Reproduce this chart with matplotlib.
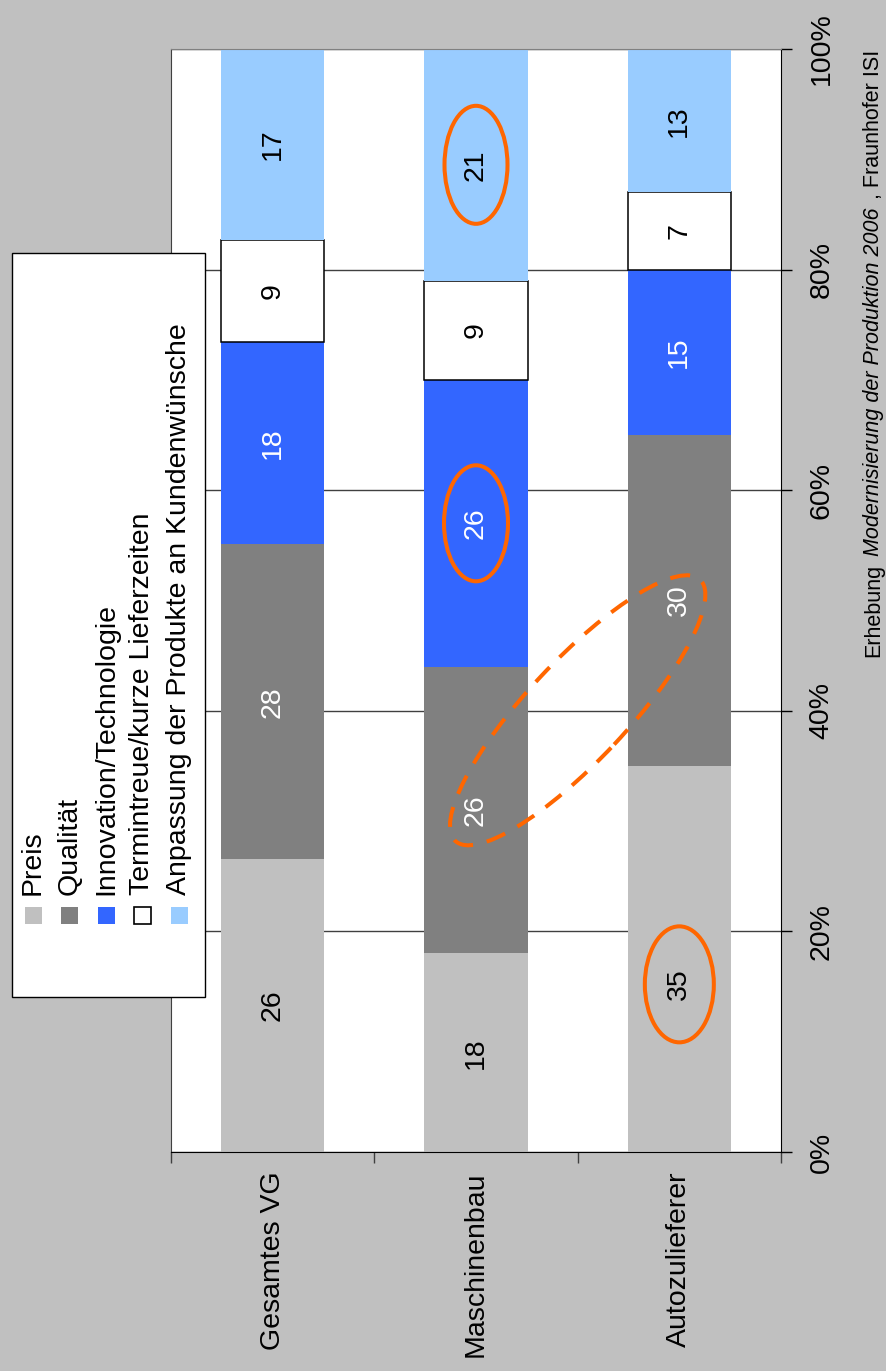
import numpy as np
import matplotlib.pyplot as plt
from matplotlib.patches import Ellipse, Rectangle
from matplotlib.transforms import IdentityTransform

plt.rcParams['font.family'] = ['Liberation Sans', 'DejaVu Sans']

categories = ['Gesamtes VG', 'Maschinenbau', 'Autozulieferer']
series = ['Preis', 'Qualität', 'Innovation/Technologie',
          'Termintreue/kurze Lieferzeiten', 'Anpassung der Produkte an Kundenwünsche']
preis = [26, 18, 35]
qualitaet = [28, 26, 30]
innovation = [18, 26, 15]
termintreue = [9, 9, 7]
anpassung = [17, 21, 13]
ticks = [0, 20, 40, 60, 80, 100]
source = [('Erhebung', 'normal'), ('Modernisierung der Produktion 2006', 'italic'),
          (', Fraunhofer ISI', 'normal')]

colors = ['#C0C0C0', '#808080', '#3366FF', '#FFFFFF', '#99CCFF']
text_colors = ['black', 'white', 'white', 'black', 'black']
values = np.array([preis, qualitaet, innovation, termintreue, anpassung], dtype=float)
shares = values / values.sum(axis=0) * 100  # 100% stacked

W, H = 887, 1371
fig = plt.figure(figsize=(W / 100, H / 100), dpi=100, facecolor='#C0C0C0')
ax = fig.add_axes([171 / W, (H - 1152) / H, 610 / W, 1103 / H])
ax.set_facecolor('white')
x = np.arange(len(categories))
FS = 20.5

# the circled Preis label of Autozulieferer sits a bit lower in its segment
label_shift = {(0, 2): -2.3}

bottom = np.zeros(len(categories))
for k in range(len(series)):
    edge = 'black' if k == 3 else 'none'
    ax.bar(x, shares[k], 0.507, bottom=bottom, color=colors[k], edgecolor=edge,
           linewidth=1.1, zorder=2)
    for i in range(len(categories)):
        yl = bottom[i] + shares[k][i] / 2 + label_shift.get((k, i), 0)
        ax.text(x[i], yl, f'{values[k][i]:.0f}', rotation=90,
                ha='center', va='center', fontsize=FS, color=text_colors[k], zorder=3)
    bottom += shares[k]

ax.set_xlim(-0.5, len(categories) - 0.5)
ax.set_ylim(0, 100)
ax.yaxis.grid(True, color='#404040', linewidth=1.0, zorder=0)
ax.set_axisbelow(True)

ax.yaxis.tick_right()
ax.set_yticks(ticks)
ax.set_yticklabels([f'{t}%' for t in ticks], rotation=90, va='center')
ax.tick_params(axis='y', direction='out', length=8, width=1, pad=12, labelsize=FS)

ax.set_xticks(x)
ax.set_xticklabels(categories, rotation=90)
ax.set_xticks(np.arange(-0.5, len(categories)), minor=True)
ax.tick_params(axis='x', which='major', length=0, pad=14, labelsize=FS)
ax.tick_params(axis='x', which='minor', length=8, width=1, color='#404040')

for side in ['bottom', 'right']:
    ax.spines[side].set_color('black')
ax.spines['left'].set_color('#404040')
ax.spines['top'].set_color('#808080')

# orange highlight rings, positioned from the segment centres (pixel space)
fig.canvas.draw()
renderer = fig.canvas.get_renderer()
cum = np.vstack([np.zeros(len(categories)), np.cumsum(shares, axis=0)])


def seg_center(k, i):
    yc = (cum[k][i] + cum[k + 1][i]) / 2 + label_shift.get((k, i), 0)
    return ax.transData.transform((x[i], yc))


orange = '#FF6600'
for k, i, w, h in [(4, 1, 63, 118), (2, 1, 64, 116), (0, 2, 69, 116)]:
    cx, cy = seg_center(k, i)
    ax.add_patch(Ellipse((cx, cy), w, h, fill=False, edgecolor=orange, linewidth=2.9,
                         transform=IdentityTransform(), clip_on=False, zorder=5))

p1 = seg_center(1, 1)
p2 = seg_center(1, 2)
mid = (p1 + p2) / 2
d = p2 - p1
ang = np.degrees(np.arctan2(d[1], d[0])) + 1
ax.add_patch(Ellipse((mid[0], mid[1] - 5), np.hypot(*d) + 66, 100, angle=ang, fill=False,
                     edgecolor=orange, linewidth=2.9, linestyle=(0, (5, 3.5)),
                     transform=IdentityTransform(), clip_on=False, zorder=5))

# legend box with rotated entries, left of the first bar
lx0, lx1, ly_top, ly_bot = 12, 205, 253, 997
fig.add_artist(Rectangle((lx0, H - ly_bot), lx1 - lx0, ly_bot - ly_top, facecolor='white',
                         edgecolor='black', linewidth=1.0, transform=IdentityTransform(), zorder=6))
for k in range(len(series)):
    rx = 33 + k * 36.5
    fig.add_artist(Rectangle((rx - 8.5, H - 924), 17, 17, facecolor=colors[k],
                             edgecolor='black' if k == 3 else 'none', linewidth=1.2,
                             transform=IdentityTransform(), zorder=7))
    fig.text(rx / W, (H - 895) / H, series[k], rotation=90, ha='center', va='bottom',
             fontsize=FS, zorder=7)

# source line, built piece by piece so the survey title can be italic
ypos = H - 657
gap = 8
for txt, style in source:
    t = fig.text(874 / W, ypos / H, txt, rotation=90, ha='center', va='bottom',
                 fontsize=15.5, style=style)
    ypos += t.get_window_extent(renderer).height + gap

fig.savefig('out.png', dpi=100, facecolor=fig.get_facecolor())
